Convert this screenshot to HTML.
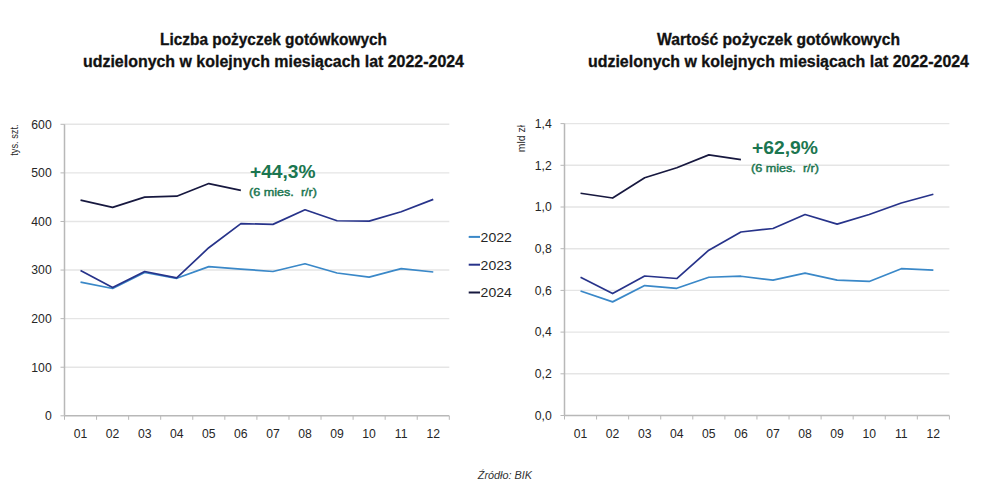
<!DOCTYPE html>
<html><head><meta charset="utf-8">
<style>
html,body{margin:0;padding:0;background:#fff;}
body{width:1000px;height:503px;overflow:hidden;}
svg{display:block;}
text{font-family:"Liberation Sans",sans-serif;}
.ax{font-size:12.2px;fill:#262626;}
.lg{font-size:13.6px;fill:#262626;}
.tt{font-size:15.6px;font-weight:bold;fill:#111;stroke:#111;stroke-width:0.3px;}
.gb{font-size:18.6px;font-weight:bold;fill:#1b7650;}
.gs{font-size:11.8px;font-weight:normal;fill:#1b7650;stroke:#1b7650;stroke-width:0.45px;}
.yl{font-size:10px;fill:#262626;}
.src{font-size:10px;font-style:italic;fill:#333;}
</style></head><body>
<svg width="1000" height="503" viewBox="0 0 1000 503">
<rect width="1000" height="503" fill="#fff"/>
<text x="273.5" y="45.0" text-anchor="middle" class="tt" textLength="227" lengthAdjust="spacingAndGlyphs">Liczba pożyczek gotówkowych</text>
<text x="273.5" y="66.7" text-anchor="middle" class="tt" textLength="381" lengthAdjust="spacingAndGlyphs">udzielonych w kolejnych miesiącach lat 2022-2024</text>
<text x="778.5" y="45.0" text-anchor="middle" class="tt" textLength="243" lengthAdjust="spacingAndGlyphs">Wartość pożyczek gotówkowych</text>
<text x="778.5" y="66.7" text-anchor="middle" class="tt" textLength="381" lengthAdjust="spacingAndGlyphs">udzielonych w kolejnych miesiącach lat 2022-2024</text>
<text transform="translate(18.0,124.4) rotate(-90)" text-anchor="end" class="yl" textLength="31.4" lengthAdjust="spacingAndGlyphs">tys. szt.</text>
<text transform="translate(525.1,125) rotate(-90)" text-anchor="end" class="yl" textLength="27.3" lengthAdjust="spacingAndGlyphs">mld zł</text>
<line x1="64.5" y1="367.22" x2="449.3" y2="367.22" stroke="#e5e5e5" stroke-width="1.4"/>
<line x1="64.5" y1="318.63" x2="449.3" y2="318.63" stroke="#e5e5e5" stroke-width="1.4"/>
<line x1="64.5" y1="270.05" x2="449.3" y2="270.05" stroke="#e5e5e5" stroke-width="1.4"/>
<line x1="64.5" y1="221.47" x2="449.3" y2="221.47" stroke="#e5e5e5" stroke-width="1.4"/>
<line x1="64.5" y1="172.88" x2="449.3" y2="172.88" stroke="#e5e5e5" stroke-width="1.4"/>
<line x1="64.5" y1="124.30" x2="449.3" y2="124.30" stroke="#e5e5e5" stroke-width="1.4"/>
<line x1="60.5" y1="415.80" x2="64.5" y2="415.80" stroke="#b8b8b8" stroke-width="1"/>
<text x="51.7" y="420.10" text-anchor="end" class="ax">0</text>
<line x1="60.5" y1="367.22" x2="64.5" y2="367.22" stroke="#b8b8b8" stroke-width="1"/>
<text x="51.7" y="371.52" text-anchor="end" class="ax">100</text>
<line x1="60.5" y1="318.63" x2="64.5" y2="318.63" stroke="#b8b8b8" stroke-width="1"/>
<text x="51.7" y="322.93" text-anchor="end" class="ax">200</text>
<line x1="60.5" y1="270.05" x2="64.5" y2="270.05" stroke="#b8b8b8" stroke-width="1"/>
<text x="51.7" y="274.35" text-anchor="end" class="ax">300</text>
<line x1="60.5" y1="221.47" x2="64.5" y2="221.47" stroke="#b8b8b8" stroke-width="1"/>
<text x="51.7" y="225.77" text-anchor="end" class="ax">400</text>
<line x1="60.5" y1="172.88" x2="64.5" y2="172.88" stroke="#b8b8b8" stroke-width="1"/>
<text x="51.7" y="177.18" text-anchor="end" class="ax">500</text>
<line x1="60.5" y1="124.30" x2="64.5" y2="124.30" stroke="#b8b8b8" stroke-width="1"/>
<text x="51.7" y="128.60" text-anchor="end" class="ax">600</text>
<line x1="64.50" y1="415.80" x2="64.50" y2="419.80" stroke="#b8b8b8" stroke-width="1"/>
<line x1="96.57" y1="415.80" x2="96.57" y2="419.80" stroke="#b8b8b8" stroke-width="1"/>
<line x1="128.63" y1="415.80" x2="128.63" y2="419.80" stroke="#b8b8b8" stroke-width="1"/>
<line x1="160.70" y1="415.80" x2="160.70" y2="419.80" stroke="#b8b8b8" stroke-width="1"/>
<line x1="192.77" y1="415.80" x2="192.77" y2="419.80" stroke="#b8b8b8" stroke-width="1"/>
<line x1="224.83" y1="415.80" x2="224.83" y2="419.80" stroke="#b8b8b8" stroke-width="1"/>
<line x1="256.90" y1="415.80" x2="256.90" y2="419.80" stroke="#b8b8b8" stroke-width="1"/>
<line x1="288.97" y1="415.80" x2="288.97" y2="419.80" stroke="#b8b8b8" stroke-width="1"/>
<line x1="321.03" y1="415.80" x2="321.03" y2="419.80" stroke="#b8b8b8" stroke-width="1"/>
<line x1="353.10" y1="415.80" x2="353.10" y2="419.80" stroke="#b8b8b8" stroke-width="1"/>
<line x1="385.17" y1="415.80" x2="385.17" y2="419.80" stroke="#b8b8b8" stroke-width="1"/>
<line x1="417.23" y1="415.80" x2="417.23" y2="419.80" stroke="#b8b8b8" stroke-width="1"/>
<line x1="449.30" y1="415.80" x2="449.30" y2="419.80" stroke="#b8b8b8" stroke-width="1"/>
<text x="80.53" y="438.00" text-anchor="middle" class="ax">01</text>
<text x="112.60" y="438.00" text-anchor="middle" class="ax">02</text>
<text x="144.67" y="438.00" text-anchor="middle" class="ax">03</text>
<text x="176.73" y="438.00" text-anchor="middle" class="ax">04</text>
<text x="208.80" y="438.00" text-anchor="middle" class="ax">05</text>
<text x="240.87" y="438.00" text-anchor="middle" class="ax">06</text>
<text x="272.93" y="438.00" text-anchor="middle" class="ax">07</text>
<text x="305.00" y="438.00" text-anchor="middle" class="ax">08</text>
<text x="337.07" y="438.00" text-anchor="middle" class="ax">09</text>
<text x="369.13" y="438.00" text-anchor="middle" class="ax">10</text>
<text x="401.20" y="438.00" text-anchor="middle" class="ax">11</text>
<text x="433.27" y="438.00" text-anchor="middle" class="ax">12</text>
<line x1="64.5" y1="124.30" x2="64.5" y2="415.80" stroke="#b8b8b8" stroke-width="1.5"/>
<line x1="64.5" y1="415.80" x2="449.3" y2="415.80" stroke="#b8b8b8" stroke-width="1.5"/>
<polyline points="80.53,282.20 112.60,288.51 144.67,272.48 176.73,278.31 208.80,266.65 240.87,269.08 272.93,271.51 305.00,263.73 337.07,272.97 369.13,277.09 401.20,268.59 433.27,271.99" fill="none" stroke="#3a88c8" stroke-width="1.7" stroke-linejoin="round"/>
<polyline points="80.53,270.54 112.60,287.54 144.67,271.51 176.73,277.82 208.80,247.70 240.87,223.65 272.93,224.38 305.00,209.81 337.07,220.74 369.13,221.18 401.20,211.75 433.27,199.36" fill="none" stroke="#27338a" stroke-width="1.7" stroke-linejoin="round"/>
<polyline points="80.53,200.09 112.60,207.38 144.67,197.18 176.73,196.20 208.80,183.57 240.87,190.37" fill="none" stroke="#17183f" stroke-width="1.7" stroke-linejoin="round"/>
<line x1="564.5" y1="373.80" x2="949.4" y2="373.80" stroke="#e5e5e5" stroke-width="1.4"/>
<line x1="564.5" y1="332.10" x2="949.4" y2="332.10" stroke="#e5e5e5" stroke-width="1.4"/>
<line x1="564.5" y1="290.40" x2="949.4" y2="290.40" stroke="#e5e5e5" stroke-width="1.4"/>
<line x1="564.5" y1="248.70" x2="949.4" y2="248.70" stroke="#e5e5e5" stroke-width="1.4"/>
<line x1="564.5" y1="207.00" x2="949.4" y2="207.00" stroke="#e5e5e5" stroke-width="1.4"/>
<line x1="564.5" y1="165.30" x2="949.4" y2="165.30" stroke="#e5e5e5" stroke-width="1.4"/>
<line x1="564.5" y1="123.60" x2="949.4" y2="123.60" stroke="#e5e5e5" stroke-width="1.4"/>
<line x1="560.5" y1="415.50" x2="564.5" y2="415.50" stroke="#b8b8b8" stroke-width="1"/>
<text x="551.7" y="419.80" text-anchor="end" class="ax">0,0</text>
<line x1="560.5" y1="373.80" x2="564.5" y2="373.80" stroke="#b8b8b8" stroke-width="1"/>
<text x="551.7" y="378.10" text-anchor="end" class="ax">0,2</text>
<line x1="560.5" y1="332.10" x2="564.5" y2="332.10" stroke="#b8b8b8" stroke-width="1"/>
<text x="551.7" y="336.40" text-anchor="end" class="ax">0,4</text>
<line x1="560.5" y1="290.40" x2="564.5" y2="290.40" stroke="#b8b8b8" stroke-width="1"/>
<text x="551.7" y="294.70" text-anchor="end" class="ax">0,6</text>
<line x1="560.5" y1="248.70" x2="564.5" y2="248.70" stroke="#b8b8b8" stroke-width="1"/>
<text x="551.7" y="253.00" text-anchor="end" class="ax">0,8</text>
<line x1="560.5" y1="207.00" x2="564.5" y2="207.00" stroke="#b8b8b8" stroke-width="1"/>
<text x="551.7" y="211.30" text-anchor="end" class="ax">1,0</text>
<line x1="560.5" y1="165.30" x2="564.5" y2="165.30" stroke="#b8b8b8" stroke-width="1"/>
<text x="551.7" y="169.60" text-anchor="end" class="ax">1,2</text>
<line x1="560.5" y1="123.60" x2="564.5" y2="123.60" stroke="#b8b8b8" stroke-width="1"/>
<text x="551.7" y="127.90" text-anchor="end" class="ax">1,4</text>
<line x1="564.50" y1="415.50" x2="564.50" y2="419.50" stroke="#b8b8b8" stroke-width="1"/>
<line x1="596.58" y1="415.50" x2="596.58" y2="419.50" stroke="#b8b8b8" stroke-width="1"/>
<line x1="628.65" y1="415.50" x2="628.65" y2="419.50" stroke="#b8b8b8" stroke-width="1"/>
<line x1="660.73" y1="415.50" x2="660.73" y2="419.50" stroke="#b8b8b8" stroke-width="1"/>
<line x1="692.80" y1="415.50" x2="692.80" y2="419.50" stroke="#b8b8b8" stroke-width="1"/>
<line x1="724.88" y1="415.50" x2="724.88" y2="419.50" stroke="#b8b8b8" stroke-width="1"/>
<line x1="756.95" y1="415.50" x2="756.95" y2="419.50" stroke="#b8b8b8" stroke-width="1"/>
<line x1="789.02" y1="415.50" x2="789.02" y2="419.50" stroke="#b8b8b8" stroke-width="1"/>
<line x1="821.10" y1="415.50" x2="821.10" y2="419.50" stroke="#b8b8b8" stroke-width="1"/>
<line x1="853.17" y1="415.50" x2="853.17" y2="419.50" stroke="#b8b8b8" stroke-width="1"/>
<line x1="885.25" y1="415.50" x2="885.25" y2="419.50" stroke="#b8b8b8" stroke-width="1"/>
<line x1="917.32" y1="415.50" x2="917.32" y2="419.50" stroke="#b8b8b8" stroke-width="1"/>
<line x1="949.40" y1="415.50" x2="949.40" y2="419.50" stroke="#b8b8b8" stroke-width="1"/>
<text x="580.54" y="437.70" text-anchor="middle" class="ax">01</text>
<text x="612.61" y="437.70" text-anchor="middle" class="ax">02</text>
<text x="644.69" y="437.70" text-anchor="middle" class="ax">03</text>
<text x="676.76" y="437.70" text-anchor="middle" class="ax">04</text>
<text x="708.84" y="437.70" text-anchor="middle" class="ax">05</text>
<text x="740.91" y="437.70" text-anchor="middle" class="ax">06</text>
<text x="772.99" y="437.70" text-anchor="middle" class="ax">07</text>
<text x="805.06" y="437.70" text-anchor="middle" class="ax">08</text>
<text x="837.14" y="437.70" text-anchor="middle" class="ax">09</text>
<text x="869.21" y="437.70" text-anchor="middle" class="ax">10</text>
<text x="901.29" y="437.70" text-anchor="middle" class="ax">11</text>
<text x="933.36" y="437.70" text-anchor="middle" class="ax">12</text>
<line x1="564.5" y1="123.60" x2="564.5" y2="415.50" stroke="#b8b8b8" stroke-width="1.5"/>
<line x1="564.5" y1="415.50" x2="949.4" y2="415.50" stroke="#b8b8b8" stroke-width="1.5"/>
<polyline points="580.54,291.03 612.61,301.87 644.69,285.60 676.76,288.31 708.84,277.26 740.91,276.22 772.99,280.18 805.06,273.09 837.14,280.18 869.21,281.43 901.29,268.72 933.36,270.18" fill="none" stroke="#3a88c8" stroke-width="1.7" stroke-linejoin="round"/>
<polyline points="580.54,277.26 612.61,293.53 644.69,276.01 676.76,278.52 708.84,250.16 740.91,232.02 772.99,228.48 805.06,214.51 837.14,224.10 869.21,214.51 901.29,203.04 933.36,194.28" fill="none" stroke="#27338a" stroke-width="1.7" stroke-linejoin="round"/>
<polyline points="580.54,193.24 612.61,198.03 644.69,177.81 676.76,167.80 708.84,154.88 740.91,159.67" fill="none" stroke="#17183f" stroke-width="1.7" stroke-linejoin="round"/>
<line x1="468.7" y1="236.9" x2="480" y2="236.9" stroke="#3a88c8" stroke-width="2"/><text x="480.6" y="241.7" class="lg" textLength="31.2" lengthAdjust="spacingAndGlyphs">2022</text><line x1="468.7" y1="264.7" x2="480" y2="264.7" stroke="#27338a" stroke-width="2"/><text x="480.6" y="269.5" class="lg" textLength="31.2" lengthAdjust="spacingAndGlyphs">2023</text><line x1="468.7" y1="292.5" x2="480" y2="292.5" stroke="#17183f" stroke-width="2"/><text x="480.6" y="297.3" class="lg" textLength="31.2" lengthAdjust="spacingAndGlyphs">2024</text>
<text x="250" y="177.5" class="gb" textLength="65.5" lengthAdjust="spacingAndGlyphs">+44,3%</text>
<text x="249" y="195.5" class="gs" xml:space="preserve" style="white-space:pre" textLength="68" lengthAdjust="spacingAndGlyphs">(6 mies.  r/r)</text>
<text x="752" y="154" class="gb" textLength="66" lengthAdjust="spacingAndGlyphs">+62,9%</text>
<text x="751" y="172" class="gs" xml:space="preserve" style="white-space:pre" textLength="68" lengthAdjust="spacingAndGlyphs">(6 mies.  r/r)</text>
<text x="477.8" y="479" class="src" textLength="54.2" lengthAdjust="spacingAndGlyphs">Źródło: BIK</text>
</svg>
</body></html>
